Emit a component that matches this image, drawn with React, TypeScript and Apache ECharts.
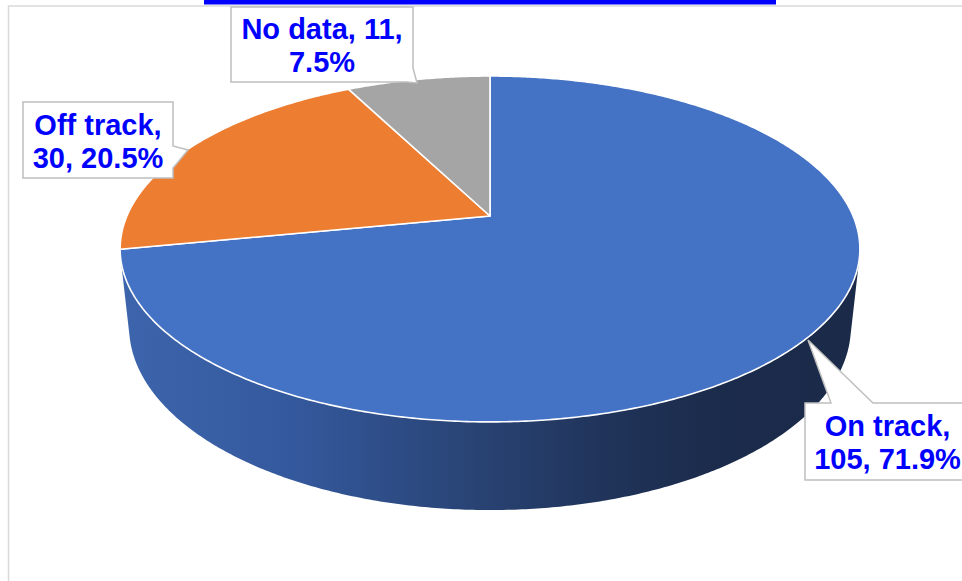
import React, { useEffect, useRef } from "react";
import * as echarts from "echarts";

// ---- data ----
const categories: string[] = ["On track", "Off track", "No data"];
const values: number[] = [105, 30, 11];
// whether the label's line break comes after the value (true) or after the name (false)
const breakAfterValue: boolean[] = [false, false, true];

// ---- styles ----
const sliceColors = ["#4472C4", "#ED7D31", "#A5A5A5"];
const sideStops = [
  [
    { offset: 0, color: "#3d65ad" },
    { offset: 0.24, color: "#34589c" },
    { offset: 0.49, color: "#284272" },
    { offset: 0.68, color: "#1f3257" },
    { offset: 0.81, color: "#1b2b4b" },
    { offset: 1, color: "#1b2a49" },
  ],
  [
    { offset: 0, color: "#b85f22" },
    { offset: 1, color: "#7a3f16" },
  ],
  [
    { offset: 0, color: "#8a8a8a" },
    { offset: 1, color: "#5a5a5a" },
  ],
];

// ---- 3D projection params ----
const CX = 490;
const CY = 216;
const F = 1692;
const D = 4.66;
const SIN_A = 0.459;
const COS_A = Math.sqrt(1 - SIN_A * SIN_A);
const THICK = 0.243;

function project(t: number, z: number, r = 1): [number, number] {
  const X = r * Math.sin(t);
  const Y = r * Math.cos(t);
  const depth = D + Y * COS_A - z * SIN_A;
  return [CX + (F * X) / depth, CY - (F * (Y * SIN_A + z * COS_A)) / depth];
}

function arcPoints(a: number, b: number, z: number): [number, number][] {
  const pts: [number, number][] = [];
  const n = Math.max(2, Math.ceil(((b - a) / (2 * Math.PI)) * 720));
  for (let i = 0; i <= n; i++) {
    pts.push(project(a + ((b - a) * i) / n, z));
  }
  return pts;
}

const total = values.reduce((s, v) => s + v, 0);
const pct = (v: number) => ((v / total) * 100).toFixed(1);

function labelText(i: number): string {
  const name = categories[i];
  const v = values[i];
  return breakAfterValue[i]
    ? `${name}, ${v},\n${pct(v)}%`
    : `${name},\n${v}, ${pct(v)}%`;
}

// visible side range (front-facing)
const TV0 = Math.acos(-1 / (D * COS_A));
const TV1 = 2 * Math.PI - TV0;

export default function App() {
  const ref = useRef<HTMLDivElement>(null);

  useEffect(() => {
    if (!ref.current) return;
    const chart = echarts.init(ref.current, undefined, { renderer: "svg" });

    const renderItem = (params: any, api: any) => {
      const idx = params.dataIndex;
      let before = 0;
      for (let k = 0; k < idx; k++) before += values[k];
      const val = api.value(0);
      const t0 = (before / total) * 2 * Math.PI;
      const t1 = ((before + val) / total) * 2 * Math.PI;

      const children: any[] = [];
      const a = Math.max(t0, TV0);
      const b = Math.min(t1, TV1);
      if (b > a) {
        const top = arcPoints(a, b, 0);
        const bottom = arcPoints(a, b, -THICK).reverse();
        children.push({
          type: "polygon",
          z2: 1,
          shape: { points: top.concat(bottom) },
          style: {
            fill: new echarts.graphic.LinearGradient(120, 0, 860, 0, sideStops[idx], true),
            stroke: null,
          },
        });
      }
      const topFace = [project(0, 0, 0) as [number, number]].concat(arcPoints(t0, t1, 0));
      children.push({
        type: "polygon",
        z2: 10,
        shape: { points: topFace },
        style: {
          fill: sliceColors[idx],
          stroke: "#ffffff",
          lineWidth: 1.6,
          lineJoin: "round",
        },
      });
      return { type: "group", children };
    };

    const textStyle = (text: string, x: number, y: number) => ({
      type: "text",
      x,
      y,
      z: 100,
      style: {
        text,
        fill: "#0000FF",
        font: 'bold 29px "Liberation Sans", Arial, sans-serif',
        textAlign: "center",
        textVerticalAlign: "middle",
        align: "center",
        verticalAlign: "middle",
        lineHeight: 33,
      },
    });

    const callout = (points: number[][]) => ({
      type: "polygon",
      z: 90,
      shape: { points },
      style: { fill: "#ffffff", stroke: "#BFBFBF", lineWidth: 1.5 },
    });

    chart.setOption({
      animation: false,
      backgroundColor: "#ffffff",
      series: [
        {
          type: "custom",
          coordinateSystem: "none",
          renderItem,
          data: values.map((v, i) => ({ name: categories[i], value: [v, i] })),
          silent: true,
        },
      ],
      graphic: [
        {
          type: "rect",
          z: 50,
          shape: { x: 8.5, y: 6, width: 1000, height: 1000 },
          style: { fill: "none", stroke: "#D9D9D9", lineWidth: 1.5 },
        },
        {
          type: "rect",
          z: 51,
          shape: { x: 204, y: 0, width: 572, height: 4.5 },
          style: { fill: "#0000FF" },
        },
        callout([
          [805, 403],
          [831, 403],
          [808, 340],
          [873, 403],
          [975, 403],
          [975, 480],
          [805, 480],
        ]),
        textStyle(labelText(0), 887.5, 442.5),
        callout([
          [23, 102],
          [173, 102],
          [173, 146],
          [188, 150],
          [173, 168],
          [173, 178],
          [23, 178],
        ]),
        textStyle(labelText(1), 98, 141),
        callout([
          [231, 7],
          [413, 7],
          [413, 68],
          [417, 83],
          [407, 82],
          [231, 82],
        ]),
        textStyle(labelText(2), 322, 45.5),
      ],
    });

    return () => chart.dispose();
  }, []);

  return (
    <div
      ref={ref}
      style={{ position: "absolute", left: 0, top: 0, width: 962, height: 581 }}
    />
  );
}
